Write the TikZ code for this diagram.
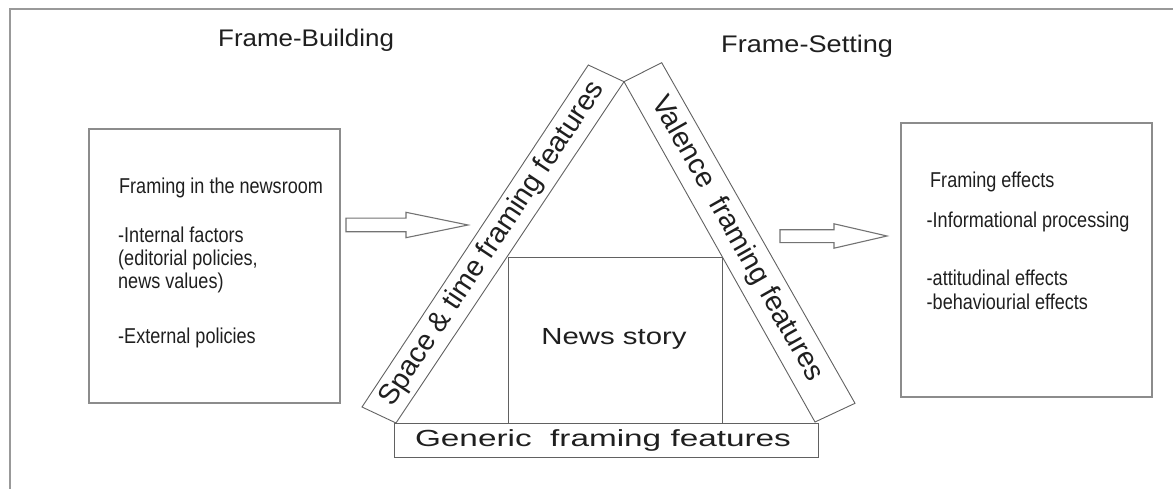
\documentclass[tikz,border=0pt]{standalone}
\usepackage{fontspec}
\setmainfont{Liberation Sans}
\usetikzlibrary{calc}
\begin{document}
\begin{tikzpicture}[x=1pt,y=-1pt,
  frameline/.style={draw=black!40, line width=1.6pt},
  box/.style={draw=black!45, line width=1.3pt, rectangle, inner sep=0pt},
  edge/.style={draw=black!62, line width=0.9pt, line join=miter},
  blockarrow/.style={draw=black!55, line width=1.1pt, fill=white, line join=miter},
  ink/.style={inner sep=0pt, text=black!88},
  boxtext/.style={ink, anchor=base west,
    font=\fontsize{21.5}{24}\selectfont\addfontfeatures{FakeStretch=0.84}},
  titletext/.style={ink, anchor=base west,
    font=\fontsize{24}{28}\selectfont\addfontfeatures{FakeStretch=1.08}},
  bandtext/.style={ink, font=\fontsize{28.5}{32}\selectfont},
]
\useasboundingbox (0,0) rectangle (1173,489);

% page frame (top and left rules)
\draw[frameline] (1173,9) -- (10,9) -- (10,489);

% titles
\node[titletext] (tbuild) at (218,46.5) {Frame-Building};
\node[titletext, font=\fontsize{24}{28}\selectfont\addfontfeatures{FakeStretch=1.13}]
  (tset) at (721,53) {Frame-Setting};

% left box: framing in the newsroom
\node[box, minimum width=251, minimum height=274] (newsroom) at (214.5,266) {};
\node[boxtext] (n1) at (119,193.3) {Framing in the newsroom};
\node[boxtext] (n2) at (118,242.7) {-Internal factors};
\node[boxtext] (n3) at (118,265.5) {(editorial policies,};
\node[boxtext] (n4) at (118,288.3) {news values)};
\node[boxtext] (n5) at (118,343.3) {-External policies};

% right box: framing effects
\node[box, minimum width=251, minimum height=274] (effects) at (1026.5,260) {};
\node[boxtext] (e1) at (930,187.3) {Framing effects};
\node[boxtext] (e2) at (926.5,228) {-Informational processing};
\node[boxtext] (e3) at (926.5,285) {-attitudinal effects};
\node[boxtext] (e4) at (926.5,309.3) {-behaviourial effects};

% block arrows
\draw[blockarrow] (346,218.2) -- (406,218.2) -- (406,212.3) -- (468,225)
  -- (406,237.7) -- (406,231.8) -- (346,231.8) -- cycle;
\draw[blockarrow] (780,229.8) -- (834,229.8) -- (834,223.8) -- (887,236)
  -- (834,248.2) -- (834,242.6) -- (780,242.6) -- cycle;

% triangle corner points
\coordinate (A)  at (624,81.7);   % apex, where the inner edges meet
\coordinate (O1) at (362,407);    % left band, outer bottom
\coordinate (O2) at (588.3,65);   % left band, outer top
\coordinate (I1) at (396,423);    % left band, inner bottom
\coordinate (P1) at (661.7,62.7); % right band, outer top
\coordinate (P2) at (855,403.3);  % right band, outer bottom
\coordinate (I2) at (815,422);    % right band, inner bottom

% the two slanted bands
\draw[edge] (I1) -- (O1) -- (O2) -- (A) -- cycle;
\draw[edge] (A) -- (P1) -- (P2) -- (I2) -- cycle;

% news story frame inside the triangle
\coordinate (s1) at (508,423.5);
\coordinate (s2) at (508,257);
\coordinate (s3) at (722.5,257);
\coordinate (s4) at (722.5,423.5);
\draw[edge] (s1) -- (s2) -- (s3) -- (s4);
\node[ink, font=\fontsize{23.3}{26}\selectfont\addfontfeatures{FakeStretch=1.26}]
  (story) at (614,339) {News story};

% base bar
\node[draw=black!62, line width=0.9pt, rectangle, inner sep=0pt,
  minimum width=424, minimum height=34] (generic) at (606,440.5) {};
\node[ink, font=\fontsize{23.3}{26}\selectfont\addfontfeatures{FakeStretch=1.43}]
  (gtext) at (603,440.5) {Generic\ \ framing features};

% band labels
\coordinate (lb1) at ($(O1)!0.5!(I1)$);
\coordinate (lb2) at ($(O2)!0.5!(A)$);
\coordinate (rb1) at ($(A)!0.5!(P1)$);
\coordinate (rb2) at ($(I2)!0.5!(P2)$);
\path (lb1) -- node[bandtext, sloped] (spacetime) {Space \& time framing features} (lb2);
\path (rb1) -- node[bandtext, sloped, pos=0.49] (valence) {Valence\ \ framing features} (rb2);
\end{tikzpicture}
\end{document}
